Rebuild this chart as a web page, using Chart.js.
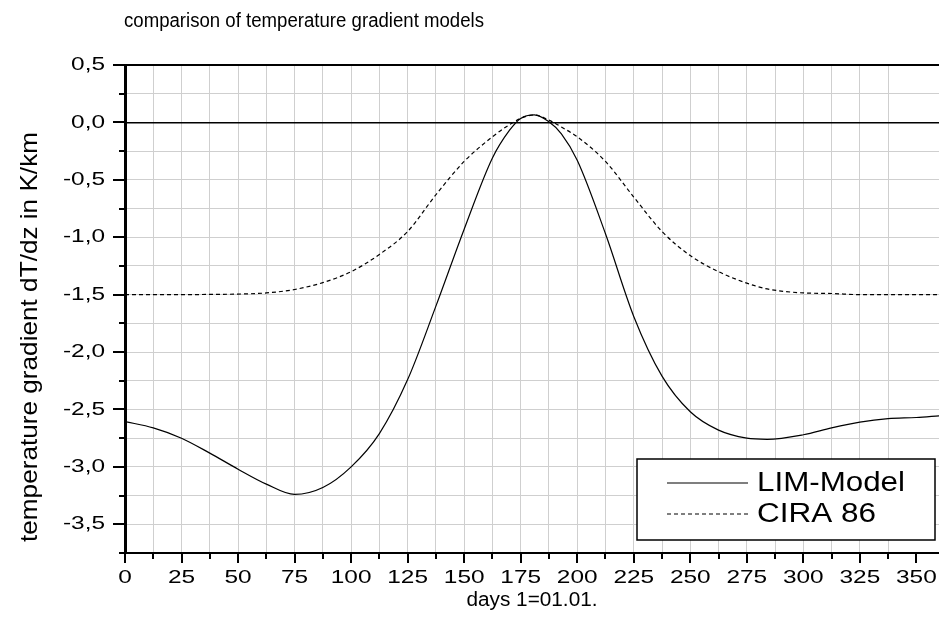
<!DOCTYPE html>
<html>
<head>
<meta charset="utf-8">
<title>comparison of temperature gradient models</title>
<script src="https://cdn.jsdelivr.net/npm/chart.js@4/dist/chart.umd.min.js"></script>
<style>
body{margin:0;background:#fff}
canvas{display:block}
</style>
</head>
<body>
<canvas id="chart" width="939" height="630"></canvas>
<script>
"use strict"

var chartTitle = "comparison of temperature gradient models",
xTitle = "days 1=01.01.",
yTitle = "temperature gradient dT/dz in K/km"

var seriesNames = ["LIM-Model","CIRA 86"]

var days = [0,12.5,25,37.5,50,62.5,75,87.5,100,112.5,125,137.5,150,162.5,170,175,181,187.5,193,200,212.5,225,237.5,250,262.5,275,284,300,312.5,325,337.5,350,360]
var limModel = [-2.605,-2.66,-2.75,-2.88,-3.02,-3.15,-3.24,-3.18,-3.0,-2.71,-2.24,-1.6,-0.93,-0.31,-0.07,0.035,0.065,0.005,-0.1,-0.33,-0.97,-1.69,-2.21,-2.52,-2.68,-2.75,-2.76,-2.72,-2.66,-2.61,-2.58,-2.57,-2.555]
var cira86 = [-1.5,-1.5,-1.5,-1.498,-1.495,-1.485,-1.455,-1.395,-1.3,-1.15,-0.95,-0.63,-0.34,-0.125,-0.02,0.035,0.065,0.02,-0.04,-0.125,-0.34,-0.65,-0.95,-1.16,-1.3,-1.4,-1.45,-1.485,-1.49,-1.5,-1.5,-1.5,-1.5]

var xTicks = [0,25,50,75,100,125,150,175,200,225,250,275,300,325,350]
var yTicks = [0.5,0,-0.5,-1,-1.5,-2,-2.5,-3,-3.5]

var FONT = "Arial, 'Liberation Sans', sans-serif"

function points(ys){
	return days.map(function(d,i){ return {x:d, y:ys[i]} })
}

// text squeezed/stretched sideways so it fills the same room as the original
function stretchText(ctx, txt, x, y, size, sx, align){
	ctx.save()
	ctx.font = size + "px " + FONT
	ctx.translate(x, y)
	ctx.scale(sx, 1)
	ctx.textAlign = align
	ctx.fillText(txt, 0, 0)
	ctx.restore()
}

function fitText(ctx, txt, x, y, size, width, align){
	ctx.font = size + "px " + FONT
	stretchText(ctx, txt, x, y, size, width/ctx.measureText(txt).width, align)
}

function gridColor(c){
	var v = c.tick.value
	if (c.scale.axis=='y' && (v==0 || v==0.5)) return '#000'
	return '#cfcfcf'
}
function gridWidth(c){
	var v = c.tick.value
	if (c.scale.axis=='y' && v==0.5) return 2
	if (c.scale.axis=='y' && v==0) return 1.6
	return 1
}

var decorations = {
	id: 'decorations',
	afterDraw: function(chart){
		var ctx = chart.ctx,
		xs = chart.scales.x,
		ys = chart.scales.y,
		area = chart.chartArea
		ctx.save()
		ctx.fillStyle = '#000'
		ctx.strokeStyle = '#000'
		ctx.lineWidth = 2

		// tick marks, long on labelled values, short in between
		ctx.beginPath()
		for (var d=0; d<=350; d+=12.5){
			var px = Math.round(xs.getPixelForValue(d))
			ctx.moveTo(px, area.bottom)
			ctx.lineTo(px, area.bottom + (d%25==0 ? 10 : 6))
		}
		for (var v=-3.75; v<=0.5001; v+=0.25){
			var py = Math.round(ys.getPixelForValue(v))
			var major = Math.abs(v*2 - Math.round(v*2)) < 1e-6
			ctx.moveTo(area.left, py)
			ctx.lineTo(area.left - (major ? 12 : 6), py)
		}
		ctx.stroke()

		// tick labels
		ctx.textBaseline = 'middle'
		xTicks.forEach(function(t){
			stretchText(ctx, String(t), xs.getPixelForValue(t), 578, 18.5, 1.32, 'center')
		})
		yTicks.forEach(function(t){
			stretchText(ctx, t.toFixed(1).replace('.',','), 105, ys.getPixelForValue(t), 18.5, 1.32, 'right')
		})

		// titles
		ctx.textBaseline = 'alphabetic'
		fitText(ctx, chartTitle, 124, 27, 19.5, 360, 'left')
		ctx.textBaseline = 'middle'
		fitText(ctx, xTitle, 532, 600, 20, 131, 'center')
		ctx.save()
		ctx.translate(30, 337)
		ctx.rotate(-Math.PI/2)
		fitText(ctx, yTitle, 0, 0, 24, 410, 'center')
		ctx.restore()

		// legend box
		ctx.fillStyle = '#fff'
		ctx.fillRect(637, 459, 298, 81)
		ctx.lineWidth = 1.5
		ctx.strokeRect(637, 459, 298, 81)
		ctx.fillStyle = '#000'
		var rows = [484, 515], widths = [148, 119]
		chart.data.datasets.forEach(function(ds, i){
			ctx.save()
			ctx.lineWidth = ds.borderWidth
			ctx.setLineDash(ds.borderDash || [])
			ctx.beginPath()
			ctx.moveTo(667, rows[i] - 1)
			ctx.lineTo(748, rows[i] - 1)
			ctx.stroke()
			ctx.restore()
			fitText(ctx, ds.label, 757, rows[i], 27, widths[i], 'left')
		})
		ctx.restore()
	}
}

new Chart(document.getElementById('chart'), {
	type: 'line',
	data: {
		datasets: [{
			label: seriesNames[0],
			data: points(limModel),
			borderColor: '#000',
			borderWidth: 1.2,
			pointRadius: 0,
			cubicInterpolationMode: 'monotone'
		},{
			label: seriesNames[1],
			data: points(cira86),
			borderColor: '#000',
			borderWidth: 1.2,
			borderDash: [4,3],
			pointRadius: 0,
			cubicInterpolationMode: 'monotone'
		}]
	},
	options: {
		responsive: false,
		devicePixelRatio: 1,
		animation: false,
		layout: {padding: {top: 65, left: 0, right: 0, bottom: 0}},
		plugins: {legend: {display: false}, title: {display: false}, tooltip: {enabled: false}},
		scales: {
			x: {
				type: 'linear',
				min: 0,
				max: 360,
				ticks: {stepSize: 12.5, display: false},
				grid: {color: gridColor, lineWidth: gridWidth, drawTicks: false},
				border: {color: '#000', width: 2},
				afterFit: function(s){ s.height = 77 }
			},
			y: {
				min: -3.75,
				max: 0.5,
				ticks: {stepSize: 0.25, display: false},
				grid: {color: gridColor, lineWidth: gridWidth, drawTicks: false},
				border: {color: '#000', width: 3},
				afterFit: function(s){ s.width = 125 }
			}
		}
	},
	plugins: [decorations]
})
</script>
</body>
</html>
